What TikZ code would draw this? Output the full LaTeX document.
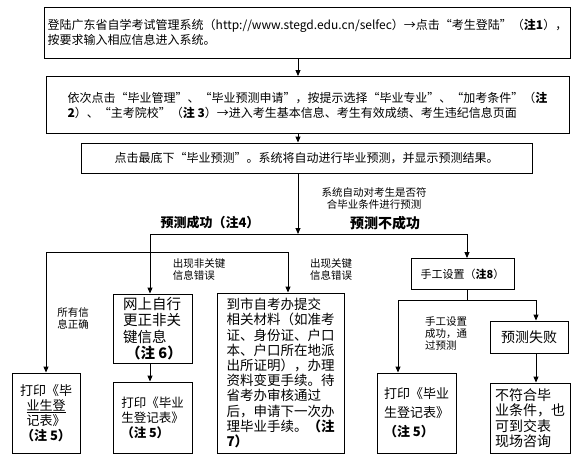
\documentclass[tikz,border=0pt]{standalone}
\usepackage{fontspec}
\setmainfont{Noto Sans CJK SC}
\usetikzlibrary{arrows.meta}

\begin{document}
\begin{tikzpicture}[
 x=1pt,y=-1pt,
 every node/.style={font=\fontsize{12}{15}\selectfont},
 box/.style={draw,line width=0.9pt,inner sep=3pt},
 tip/.style={font=\fontsize{10.5}{12}\selectfont,align=left,inner sep=0pt},
 lnk/.style={line width=0.9pt},
 arr/.style={line width=0.9pt,-{Triangle[width=5pt,length=6pt]}}
]
 \useasboundingbox (0,0) rectangle (587,464);

 % top of the flow
 \node[box,minimum width=523pt,minimum height=51pt,align=left] (login) at (307.5,32.5)
  {登陆广东省自学考试管理系统（http://www.stegd.edu.cn/selfec）→点击“考生登陆”（\textbf{注1}），\\
   按要求输入相应信息进入系统。};
 \node[box,minimum width=523pt,minimum height=57pt,align=left] (menu) at (307.5,105)
  {依次点击“毕业管理”、“毕业预测申请”，按提示选择“毕业专业”、“加考条件”（\textbf{注}\\
   \textbf{2}）、“主考院校”（\textbf{注 3}）→进入考生基本信息、考生有效成绩、考生违纪信息页面};
 \node[box,minimum width=451pt,minimum height=30pt] (predict) at (306.5,158)
  {点击最底下“毕业预测”。系统将自动进行毕业预测，并显示预测结果。};

 \coordinate (split) at (298,234);
 \coordinate (barL) at (150,234);
 \coordinate (barR) at (467,234);
 \coordinate (crossL) at (46,252);
 \coordinate (crossR) at (288,252);
 \coordinate (fork) at (467,300);
 \coordinate (forkL) at (398,300);
 \coordinate (forkR) at (536,300);

 \node[tip,align=center] (sysnote) at (374,199) {系统自动对考生是否符\\合毕业条件进行预测};
 \node[font=\fontsize{13}{15}\selectfont\bfseries,inner sep=0pt] (okLabel) at (210,223) {预测成功（注4）};
 \node[font=\fontsize{14}{16}\selectfont\bfseries,inner sep=0pt] (failLabel) at (385,223) {预测不成功};

 % success side
 \node[box,minimum width=68pt,minimum height=80pt,align=center,inner sep=1pt,
  font=\fontsize{13}{15}\selectfont] (printA) at (46,413)
  {打印《毕\\\underline{业生登}\\记表》\\\textbf{（注 5）}};
 \node[box,minimum width=79pt,minimum height=69pt,align=left,inner sep=2pt,
  font=\fontsize{14.5}{16.5}\selectfont] (online) at (152.5,328.5)
  {网上自行\\更正非关\\键信息\\\hspace{3pt}\textbf{（注 6）}};
 \node[box,minimum width=79pt,minimum height=71pt,align=left,inner sep=2pt,
  font=\fontsize{12.5}{15}\selectfont] (printB) at (152.5,417.5)
  {打印《毕业\\生登记表》\\\textbf{（注 5）}};
 \node[box,minimum width=127pt,minimum height=160pt,align=left,inner sep=3pt,
  font=\fontsize{13.5}{15.2}\selectfont] (office) at (280.5,373)
  {到市自考办提交\\相关材料（如准考\\证、身份证、户口\\本、户口所在地派\\出所证明），办理\\
   资料变更手续。待\\省考办审核通过\\后，申请下一次办\\理毕业手续。\textbf{（注}\\\textbf{7）}};

 \node[tip] (keyErrA) at (199,270) {出现非关键\\信息错误};
 \node[tip] (keyErrB) at (331,270) {出现关键\\信息错误};
 \node[tip] (allOk) at (73,319) {所有信\\息正确};

 % failure side
 \node[box,minimum width=103pt,minimum height=31pt,font=\fontsize{11}{13}\selectfont] (manual) at (462.5,274)
  {手工设置（\textbf{注8}）};
 \node[box,minimum width=78pt,minimum height=32pt,font=\fontsize{14}{16}\selectfont] (failed) at (529,337)
  {预测失败};
 \node[box,minimum width=79pt,minimum height=80pt,align=left,inner sep=2pt,
  font=\fontsize{13}{19}\selectfont] (printC) at (416.5,413)
  {打印《毕业\\生登记表》\\\textbf{（注 5）}};
 \node[box,minimum width=80pt,minimum height=70pt,align=left,inner sep=2pt,
  font=\fontsize{14}{15.5}\selectfont] (advice) at (530,418)
  {不符合毕\\业条件，也\\可到交表\\现场咨询};
 \node[tip] (manualOk) at (446,334) {手工设置\\成功，通\\过预测};

 % connectors
 \draw[arr] (login.south -| split) -- (menu.north -| split);
 \draw[arr] (menu.south -| split) -- (predict.north -| split);
 \draw[arr] (predict.south -| split) -- (split);
 \draw[lnk] (barL) -- (barR);
 \draw[arr] (barR) -- (barR |- manual.north);
 \draw[arr] (barL) -- (barL |- online.north);
 \draw[lnk] (crossL) -- (crossR);
 \draw[arr] (crossL) -- (crossL |- printA.north);
 \draw[arr] (crossR) -- (crossR |- office.north);
 \draw[arr] (online.south -| barL) -- (printB.north -| barL);
 \draw[lnk] (manual.south -| fork) -- (fork);
 \draw[lnk] (forkL) -- (forkR);
 \draw[arr] (forkL) -- (forkL |- printC.north);
 \draw[arr] (forkR) -- (forkR |- failed.north);
 \draw[arr] (failed.south -| forkR) -- (advice.north -| forkR);
\end{tikzpicture}
\end{document}
